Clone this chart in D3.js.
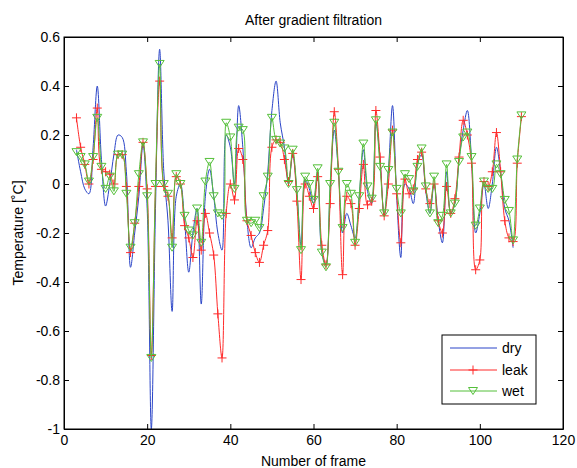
<!DOCTYPE html>
<html>
<head>
    <title>After gradient filtration</title>
    <script src="https://d3js.org/d3.v7.min.js" charset="utf-8"></script>
    <style>
        body { margin: 0; background: #fff; }
        text { font-family: "Liberation Sans", Arial, sans-serif; font-size: 14px; fill: #000; }
    </style>
</head>
<body>
    <script>
        // data: one value per frame, starting at frame 3
        var firstFrame = 3;

        var dry = [
            0.14, 0.05, -0.02, -0.04, 0.15, 0.40, 0.10, -0.09,               // 3-10
            0.00, 0.12, 0.20, 0.19, 0.05, -0.34, -0.20, -0.05, 0.16, -0.10,  // 11-20
            -1.00, -0.10, 0.55, 0.05, -0.15, -0.52, -0.05, 0.00, -0.15, -0.36,
            -0.20, -0.10, -0.49, -0.05, 0.06, -0.05, -0.20, -0.27, 0.20, 0.15,
            0.00, 0.32, 0.15, -0.15, -0.26, -0.22, -0.20, -0.10, 0.05, 0.30,
            0.42, 0.25, 0.15, 0.00, 0.12, -0.03, -0.25, 0.02, -0.02, -0.08,
            0.05, -0.28, -0.33, -0.02, 0.22, 0.05, -0.20, -0.12, -0.17, -0.22,
            -0.05, 0.14, -0.03, -0.08, 0.25, 0.10, -0.13, 0.05, 0.32, -0.05,
            -0.30, 0.00, -0.02, -0.08, 0.08, 0.12, -0.03, -0.12, 0.00, -0.15,
            -0.24, 0.05, -0.12, -0.08, 0.10, 0.22, 0.30, 0.10, -0.20, -0.12,
            0.00, -0.10, 0.00, 0.15, 0.05, -0.10, -0.15, -0.26                // 101-108
        ];

        var leak = [
            0.27, 0.15, 0.08, 0.00, 0.10, 0.31, 0.06, 0.05,
            0.04, 0.00, 0.12, 0.12, -0.01, -0.28, -0.16, -0.01, 0.17, -0.02,
            -0.70, -0.01, 0.42, -0.01, -0.05, -0.22, 0.03, 0.00, -0.17, -0.22,
            -0.30, -0.15, -0.27, -0.12, -0.20, -0.29, -0.53, -0.71, -0.12, 0.00,
            -0.065, 0.145, 0.10, -0.15, -0.21, -0.28, -0.32, -0.25, -0.19, 0.15,
            0.18, 0.17, 0.10, 0.01, 0.125, -0.07, -0.39, 0.00, -0.05, -0.10,
            0.03, -0.25, -0.33, -0.08, 0.295, 0.06, -0.37, -0.05, -0.08, -0.25,
            -0.10, 0.08, -0.085, -0.07, 0.30, 0.11, -0.13, 0.00, 0.22, -0.04,
            -0.24, 0.02, -0.04, -0.02, 0.10, 0.13, -0.02, -0.08, 0.00, -0.15,
            -0.20, -0.01, -0.12, -0.06, 0.11, 0.26, 0.20, 0.085, -0.35, -0.31,
            0.01, -0.01, 0.05, 0.21, 0.05, -0.15, -0.22, -0.235, 0.085, 0.275
        ];

        var wet = [
            0.13, 0.11, 0.08, 0.01, 0.11, 0.27, 0.07, -0.02,
            0.03, -0.03, 0.12, 0.12, -0.04, -0.26, -0.16, 0.04, 0.17, -0.05,
            -0.71, 0.00, 0.49, 0.00, -0.04, -0.26, 0.04, 0.00, -0.13, -0.19,
            -0.21, -0.10, -0.24, 0.01, 0.09, -0.05, -0.12, -0.13, 0.25, 0.19,
            -0.02, 0.23, 0.22, -0.15, -0.16, -0.15, -0.18, -0.05, 0.03, 0.27,
            0.18, 0.165, 0.145, 0.00, 0.14, -0.025, -0.27, 0.03, 0.00, -0.065,
            0.064, -0.28, -0.34, 0.00, 0.25, 0.05, -0.18, 0.00, -0.04, -0.24,
            -0.05, 0.165, -0.01, -0.06, 0.26, 0.07, -0.12, 0.057, 0.21, -0.02,
            -0.12, 0.04, 0.02, -0.03, 0.07, 0.145, -0.01, -0.12, 0.03, -0.16,
            -0.13, 0.08, -0.12, -0.08, 0.09, 0.19, 0.21, 0.11, -0.17, -0.10,
            0.01, -0.02, -0.02, 0.08, 0.04, -0.065, -0.11, -0.23, 0.10, 0.28
        ];

        var xTicks = [0, 20, 40, 60, 80, 100, 120];
        var yTicks = [-1, -0.8, -0.6, -0.4, -0.2, 0, 0.2, 0.4, 0.6];

        var width = 577, height = 468;
        var plotL = 64, plotR = 563, plotT = 37, plotB = 429;

        var colors = { dry: "#2b45c8", leak: "#ff2a2a", wet: "#55c03a" };

        var svg = d3.select("body").append("svg")
            .attr("width", width)
            .attr("height", height);

        svg.append("rect").attr("width", width).attr("height", height).attr("fill", "#fff");

        var x = d3.scaleLinear().domain([0, 120]).range([plotL, plotR]);
        var y = d3.scaleLinear().domain([-1, 0.6]).range([plotB, plotT]);

        function pts(arr) {
            return arr.map(function (v, i) { return [firstFrame + i, v]; });
        }

        // clip
        svg.append("clipPath").attr("id", "plot")
            .append("rect")
            .attr("x", plotL).attr("y", plotT)
            .attr("width", plotR - plotL).attr("height", plotB - plotT);

        var g = svg.append("g").attr("clip-path", "url(#plot)");

        var line = d3.line()
            .x(function (d) { return x(d[0]); })
            .y(function (d) { return y(d[1]); })
            .curve(d3.curveCatmullRom.alpha(0.5));

        // dry
        g.append("path").datum(pts(dry))
            .attr("d", line).attr("fill", "none")
            .attr("stroke", colors.dry).attr("stroke-width", 1);

        // leak
        g.append("path").datum(pts(leak))
            .attr("d", line).attr("fill", "none")
            .attr("stroke", colors.leak).attr("stroke-width", 1);

        var plus = "M-4.5,0H4.5M0,-4.5V4.5";
        var tri = "M-4.5,-3.5L4.5,-3.5L0,3.5Z";

        g.selectAll(".plus").data(pts(leak)).enter().append("path")
            .attr("class", "plus")
            .attr("transform", function (d) { return "translate(" + x(d[0]) + "," + y(d[1]) + ")"; })
            .attr("d", plus).attr("fill", "none")
            .attr("stroke", colors.leak).attr("stroke-width", 1);

        // wet
        g.append("path").datum(pts(wet))
            .attr("d", line).attr("fill", "none")
            .attr("stroke", colors.wet).attr("stroke-width", 1);

        g.selectAll(".tri").data(pts(wet)).enter().append("path")
            .attr("class", "tri")
            .attr("transform", function (d) { return "translate(" + x(d[0]) + "," + y(d[1]) + ")"; })
            .attr("d", tri).attr("fill", "none")
            .attr("stroke", colors.wet).attr("stroke-width", 1);

        // axes (ticks point inward, on all four sides)
        var fmt = function (d) { return (+d.toFixed(1)).toString(); };

        svg.append("g").attr("transform", "translate(0," + plotB + ")")
            .call(d3.axisBottom(x).tickValues(xTicks).tickFormat(fmt)
                .tickSizeInner(-5).tickSizeOuter(0).tickPadding(6));
        svg.append("g").attr("transform", "translate(0," + plotT + ")")
            .call(d3.axisTop(x).tickValues(xTicks).tickFormat("")
                .tickSizeInner(-5).tickSizeOuter(0));
        svg.append("g").attr("transform", "translate(" + plotL + ",0)")
            .call(d3.axisLeft(y).tickValues(yTicks).tickFormat(fmt)
                .tickSizeInner(-5).tickSizeOuter(0).tickPadding(4));
        svg.append("g").attr("transform", "translate(" + plotR + ",0)")
            .call(d3.axisRight(y).tickValues(yTicks).tickFormat("")
                .tickSizeInner(-5).tickSizeOuter(0));

        svg.selectAll(".tick text").style("font-size", "14px")
            .style("font-family", "'Liberation Sans', Arial, sans-serif");
        svg.selectAll(".domain").attr("stroke", "#000");

        // box
        svg.append("rect")
            .attr("x", plotL).attr("y", plotT)
            .attr("width", plotR - plotL).attr("height", plotB - plotT)
            .attr("fill", "none").attr("stroke", "#000").attr("stroke-width", 1);

        // titles
        svg.append("text").attr("x", (plotL + plotR) / 2).attr("y", 25)
            .attr("text-anchor", "middle").text("After gradient filtration");
        svg.append("text").attr("x", (plotL + plotR) / 2).attr("y", 466)
            .attr("text-anchor", "middle").text("Number of frame");
        svg.append("text")
            .attr("transform", "translate(23," + ((plotT + plotB) / 2) + ") rotate(-90)")
            .attr("text-anchor", "middle").text("Temperature [\u02DAC]");

        // legend
        var lg = svg.append("g");
        lg.append("rect").attr("x", 442).attr("y", 335).attr("width", 94).attr("height", 69)
            .attr("fill", "#fff").attr("stroke", "#000").attr("stroke-width", 1);
        var items = [["dry", 348, null], ["leak", 370, plus], ["wet", 391, tri]];
        items.forEach(function (it) {
            lg.append("line").attr("x1", 450).attr("x2", 497)
                .attr("y1", it[1]).attr("y2", it[1])
                .attr("stroke", colors[it[0]]).attr("stroke-width", 1);
            if (it[2]) {
                lg.append("path").attr("d", it[2])
                    .attr("transform", "translate(473," + it[1] + ")")
                    .attr("fill", "none").attr("stroke", colors[it[0]]);
            }
            lg.append("text").attr("x", 502).attr("y", it[1] + 5).text(it[0]);
        });
    </script>
</body>
</html>
